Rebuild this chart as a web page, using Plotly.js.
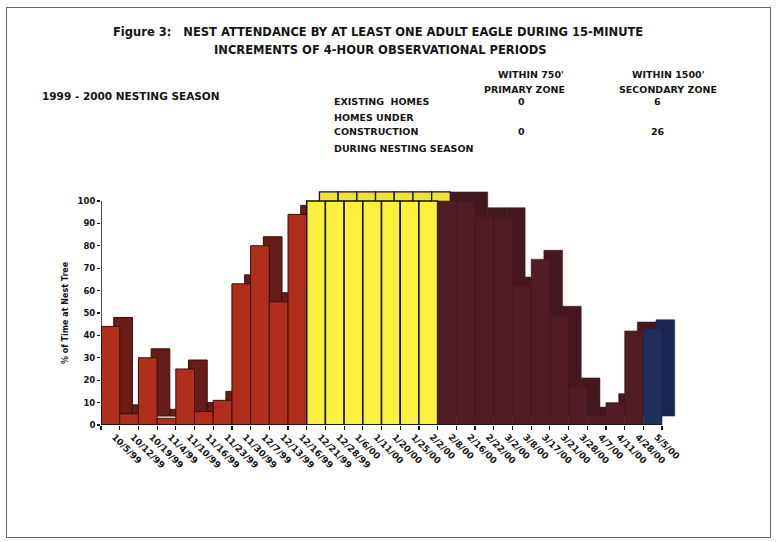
<!DOCTYPE html>
<html>
<head>
<meta charset="utf-8">
<script src="https://cdn.plot.ly/plotly-3.0.1.min.js"></script>
<style>
  html, body { margin: 0; padding: 0; background: #fff; }
  #wrap { position: relative; width: 776px; height: 542px; }
  #chart { position: absolute; left: 0; top: 0; width: 776px; height: 542px; }
  #frame { position: absolute; left: 6px; top: 7px; width: 763px; height: 529px;
           border: 1.5px solid #6a6a6a; pointer-events: none; }
</style>
</head>
<body>
<div id="wrap">
  <div id="chart"></div>
  <div id="frame"></div>
</div>
<script>
// Percent of time at the nest tree, per observation date, in four colour groups
const redDates = ['10/5/99', '10/12/99', '10/19/99', '11/4/99', '11/10/99', '11/16/99',
                  '11/23/99', '11/30/99', '12/7/99', '12/13/99', '12/16/99'];
const redPct = [44, 5, 30, 3, 25, 6, 11, 63, 80, 55, 94];

const yellowDates = ['12/21/99', '12/28/99', '1/6/00', '1/11/00', '1/20/00', '1/25/00', '2/2/00'];
const yellowPct = [100, 100, 100, 100, 100, 100, 100];

const maroonDates = ['2/8/00', '2/16/00', '2/22/00', '3/2/00', '3/8/00', '3/17/00',
                     '3/21/00', '3/28/00', '4/7/00', '4/11/00', '4/28/00'];
const maroonPct = [100, 100, 93, 93, 62, 74, 49, 17, 4, 10, 42];

const blueDates = ['5/5/00'];
const bluePct = [43];

const yTicks = [0, 10, 20, 30, 40, 50, 60, 70, 80, 90, 100];

// Homes table
const zoneHeads = [["WITHIN 750'", 'PRIMARY ZONE'], ["WITHIN 1500'", 'SECONDARY ZONE']];
const existingHomes = [0, 6];
const homesUnderConstruction = [0, 26];

// ---- drawing ----
const W = 776, H = 542;
const M = { l: 101, r: 99, t: 183, b: 117 };
const PW = W - M.l - M.r, PH = H - M.t - M.b;
const px2x = px => (px - M.l) / PW;
const py2y = py => (H - M.b - py) / PH;

const FONT = 'DejaVu Sans, Arial, sans-serif';
const INK = '#141414';

// pseudo-3D: a darker copy of each bar pushed back (right and up)
const DEPTH_X = 0.68;
const DEPTH_Y = 4;

function backBars(x, y, fill, edge, edgeW) {
  return { type: 'bar', x: x, y: y, base: DEPTH_Y, width: 1, offset: -0.5 + DEPTH_X,
           marker: { color: fill, line: { color: edge, width: edgeW } },
           hoverinfo: 'skip', showlegend: false };
}
function frontBars(x, y, fill, edge, edgeW) {
  return { type: 'bar', x: x, y: y, width: 1, offset: -0.5,
           marker: { color: fill, line: { color: edge, width: edgeW } },
           hoverinfo: 'skip', showlegend: false };
}

const traces = [
  backBars(redDates, redPct, '#671c18', '#3a0e0a', 1),
  backBars(yellowDates, yellowPct, '#efe03a', '#111', 1.3),
  backBars(maroonDates, maroonPct, '#451820', '#3a131a', 0.5),
  backBars(blueDates, bluePct, '#1a2750', '#16203f', 0.5),
  frontBars(redDates, redPct, '#b02e1c', '#3a0e0a', 1),
  frontBars(yellowDates, yellowPct, '#fcf03e', '#111', 1.5),
  frontBars(maroonDates, maroonPct, '#521c25', '#46171e', 0.5),
  frontBars(blueDates, bluePct, '#1f2f5c', '#1a2750', 0.5)
];

const allDates = redDates.concat(yellowDates, maroonDates, blueDates);

function note(text, px, py, size, anchor, extra) {
  return Object.assign({
    text: '<b>' + text + '</b>', xref: 'paper', yref: 'paper',
    x: px2x(px), y: py2y(py), xanchor: anchor || 'center', yanchor: 'middle',
    showarrow: false, font: { family: FONT, size: size, color: INK }
  }, extra || {});
}

const annotations = [
  note('Figure 3:&nbsp;&nbsp;&nbsp;NEST ATTENDANCE BY AT LEAST ONE ADULT EAGLE DURING 15-MINUTE', 378, 32, 11.5),
  note('INCREMENTS OF 4-HOUR OBSERVATIONAL PERIODS', 380, 49.5, 11.5),
  note('1999 - 2000 NESTING SEASON', 40, 96, 10.5, 'left'),
  note('EXISTING&nbsp;&nbsp;HOMES', 332, 102, 9.5, 'left'),
  note('HOMES UNDER', 332, 118, 9.5, 'left'),
  note('CONSTRUCTION', 332, 131.5, 9.5, 'left'),
  note('DURING NESTING SEASON', 332, 148, 9.5, 'left'),
  note(zoneHeads[0][0], 531, 74, 9.5),
  note(zoneHeads[0][1], 524, 89.5, 9.5),
  note(zoneHeads[1][0], 668, 74, 9.5),
  note(zoneHeads[1][1], 668, 89.5, 9.5),
  note(String(existingHomes[0]), 521, 102, 9.5),
  note(String(existingHomes[1]), 657, 102, 9.5),
  note(String(homesUnderConstruction[0]), 521, 131.5, 9.5),
  note(String(homesUnderConstruction[1]), 658, 131.5, 9.5),
  note('% of Time at Nest Tree', 65, 313, 8, 'center', { textangle: -90 })
];

const layout = {
  width: W, height: H,
  margin: M,
  paper_bgcolor: '#fff', plot_bgcolor: 'rgba(0,0,0,0)',
  barmode: 'overlay',
  showlegend: false,
  xaxis: {
    type: 'category', categoryorder: 'array', categoryarray: allDates,
    range: [-0.5, allDates.length + 0.3],
    showgrid: false, zeroline: false, showline: false,
    ticks: 'outside', tickson: 'boundaries', ticklen: 4, tickwidth: 1.2, tickcolor: INK,
    tickangle: 45, ticklabelstandoff: 4, ticklabelshift: 4,
    tickfont: { family: FONT, size: 9, color: INK, weight: 'bold' },
    fixedrange: true
  },
  yaxis: {
    range: [0, 108],
    tickmode: 'array', tickvals: yTicks, ticktext: yTicks.map(String),
    showgrid: false, zeroline: false, showline: false,
    ticks: 'outside', ticklen: 3, tickwidth: 1.2, tickcolor: INK,
    tickfont: { family: FONT, size: 8.5, color: INK, weight: 'bold' },
    fixedrange: true
  },
  shapes: [
    { type: 'line', xref: 'x', yref: 'y', x0: -0.5, x1: allDates.length - 0.5, y0: 0, y1: 0,
      line: { color: INK, width: 1.5 } },
    { type: 'line', xref: 'x', yref: 'y', x0: -0.5, x1: -0.5, y0: 0, y1: yTicks[yTicks.length - 1],
      line: { color: INK, width: 1.5 } }
  ],
  annotations: annotations
};

Plotly.newPlot('chart', traces, layout, { staticPlot: true, displayModeBar: false });
</script>
</body>
</html>
